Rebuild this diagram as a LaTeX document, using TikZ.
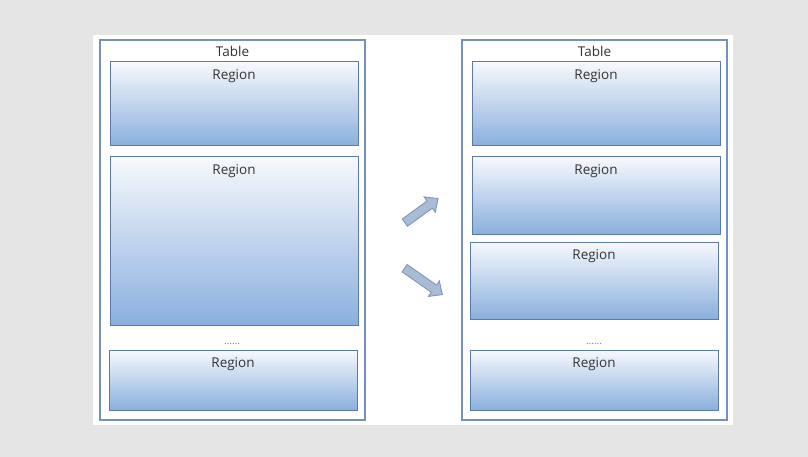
\documentclass[tikz,border=0pt]{standalone}
\usepackage{fontspec}
\setmainfont{Open Sans}
\usepackage{xcolor}
\usepackage{tikz}
\usetikzlibrary{shapes.arrows, positioning}

\definecolor{bggray}{HTML}{E5E5E5}
\definecolor{tableline}{HTML}{7590BC}
\definecolor{regionline}{HTML}{5A7AAA}
\definecolor{regiontop}{HTML}{F7F9FD}
\definecolor{regionbot}{HTML}{8AAFDD}
\definecolor{arrowfill}{HTML}{A9BCD6}
\definecolor{arrowline}{HTML}{7F96B8}
\definecolor{txtgray}{HTML}{333333}

\begin{document}
\begin{tikzpicture}[
    x=1pt, y=-1pt,
    every node/.style={font=\fontsize{13.5}{15}\selectfont, text=txtgray},
    table/.style={draw=tableline, line width=1.1pt, fill=white, minimum width=265pt, minimum height=380pt,
        label={[anchor=north, inner sep=7pt]north:Table}},
    region/.style={draw=regionline, line width=1pt, top color=regiontop, bottom color=regionbot, minimum width=248pt,
        label={[anchor=north, inner sep=8pt]north:Region}},
    dots/.style={font=\fontsize{10}{10}\selectfont, text=gray},
    bigarrow/.style={single arrow, draw=arrowline, line width=0.9pt, fill=arrowfill, inner xsep=0pt, inner ysep=4pt,
        single arrow head extend=5pt, single arrow tip angle=85, minimum width=18pt}
]
\useasboundingbox (0,0) rectangle (808,457);
\fill[bggray] (0,0) rectangle (808,457);
\fill[white] (93,35) rectangle (733,425);

\node[table] (tabL) at (232.5,230) {};
\node[table] (tabR) at (594.5,230) {};

\node[region, minimum height=84pt] (l1) at (234,104) {};
\node[region, minimum height=168pt] (l2) at (234,241) {};
\node[dots] (ldots) at (232,344) {......};
\node[region, minimum height=60pt] (l3) at (233,380) {};

\node[region, minimum height=84pt] (r1) at (596,104) {};
\node[region, minimum height=77pt] (r2) at (596,195.5) {};
\node[region, minimum height=77pt] (r3) at (594,280.5) {};
\node[dots] (rdots) at (594,344) {......};
\node[region, minimum height=60pt] (r4) at (594,380) {};

\node[bigarrow, minimum height=41pt, rotate=36] (up) at (419.5,212) {};
\node[bigarrow, minimum height=46pt, rotate=-35] (down) at (421.5,280) {};

\end{tikzpicture}
\end{document}
